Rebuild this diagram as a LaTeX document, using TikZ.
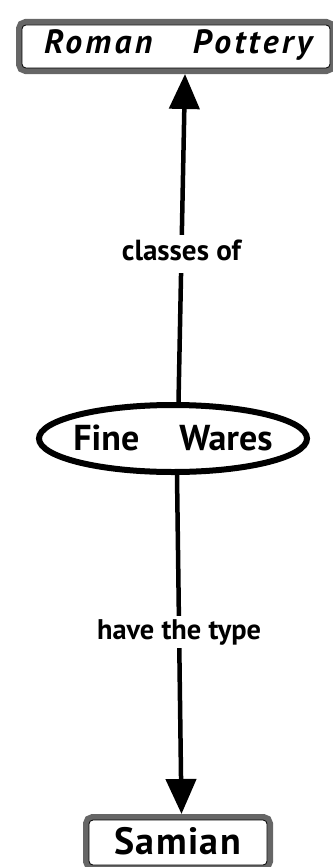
\documentclass[tikz,border=0pt]{standalone}
\usepackage{graphicx}
\usepackage{fontspec}
\setmainfont{PT Sans}
\usetikzlibrary{arrows.meta,shapes.geometric}
\begin{document}
\begin{tikzpicture}[x=1pt,y=-1pt,
  conceptbox/.style={rectangle, rounded corners=4pt, draw=black, line width=0.8pt,
    fill=white, inner sep=0pt, outer sep=6pt,
    preaction={draw=black!60, line width=12pt}},
  conceptoval/.style={ellipse, draw=black, line width=6pt, fill=white, inner sep=0pt},
  conn/.style={line width=4.5pt, -{Triangle[length=35pt,width=30pt]}},
  lbl/.style={fill=white, inner sep=0pt, text=black}]
\useasboundingbox (0,0) rectangle (332,867);

\node[conceptbox, anchor=north west, minimum width=308pt, minimum height=43pt,
      text height=28pt, text depth=15pt] (roman) at (16,19)
  {\kern22pt\resizebox{268pt}{!}{\fontsize{30}{30}\selectfont\bfseries\itshape\addfontfeature{LetterSpace=10}Roman\hspace{36pt}Pottery}\kern18pt};

\node[conceptbox, anchor=north west, minimum width=178pt, minimum height=45pt,
      text height=34pt, text depth=11pt] (samian) at (83,814)
  {\kern25pt\resizebox{127pt}{!}{\fontsize{37}{37}\selectfont\bfseries\addfontfeature{LetterSpace=4}Samian}\kern26pt};

\node[conceptoval, minimum width=268pt, minimum height=67pt,
      text height=31pt, text depth=8pt] (fine) at (173,438.5)
  {\makebox[0pt]{\fontsize{36}{36}\selectfont\bfseries Fine\hspace{40pt}Wares}};

\draw[conn] ([xshift=5.5pt]fine.north) --
  node[lbl, pos=0.452, text height=26pt, text depth=12pt] (l1) {\resizebox{119pt}{!}{\bfseries classes of}}
  ([xshift=9pt]roman.south);

\draw[conn] ([xshift=4pt]fine.south) --
  node[lbl, pos=0.4625, text height=24pt, text depth=8pt] (l2) {\resizebox{164pt}{!}{\bfseries have the type}}
  ([xshift=3.5pt]samian.north);
\end{tikzpicture}
\end{document}
